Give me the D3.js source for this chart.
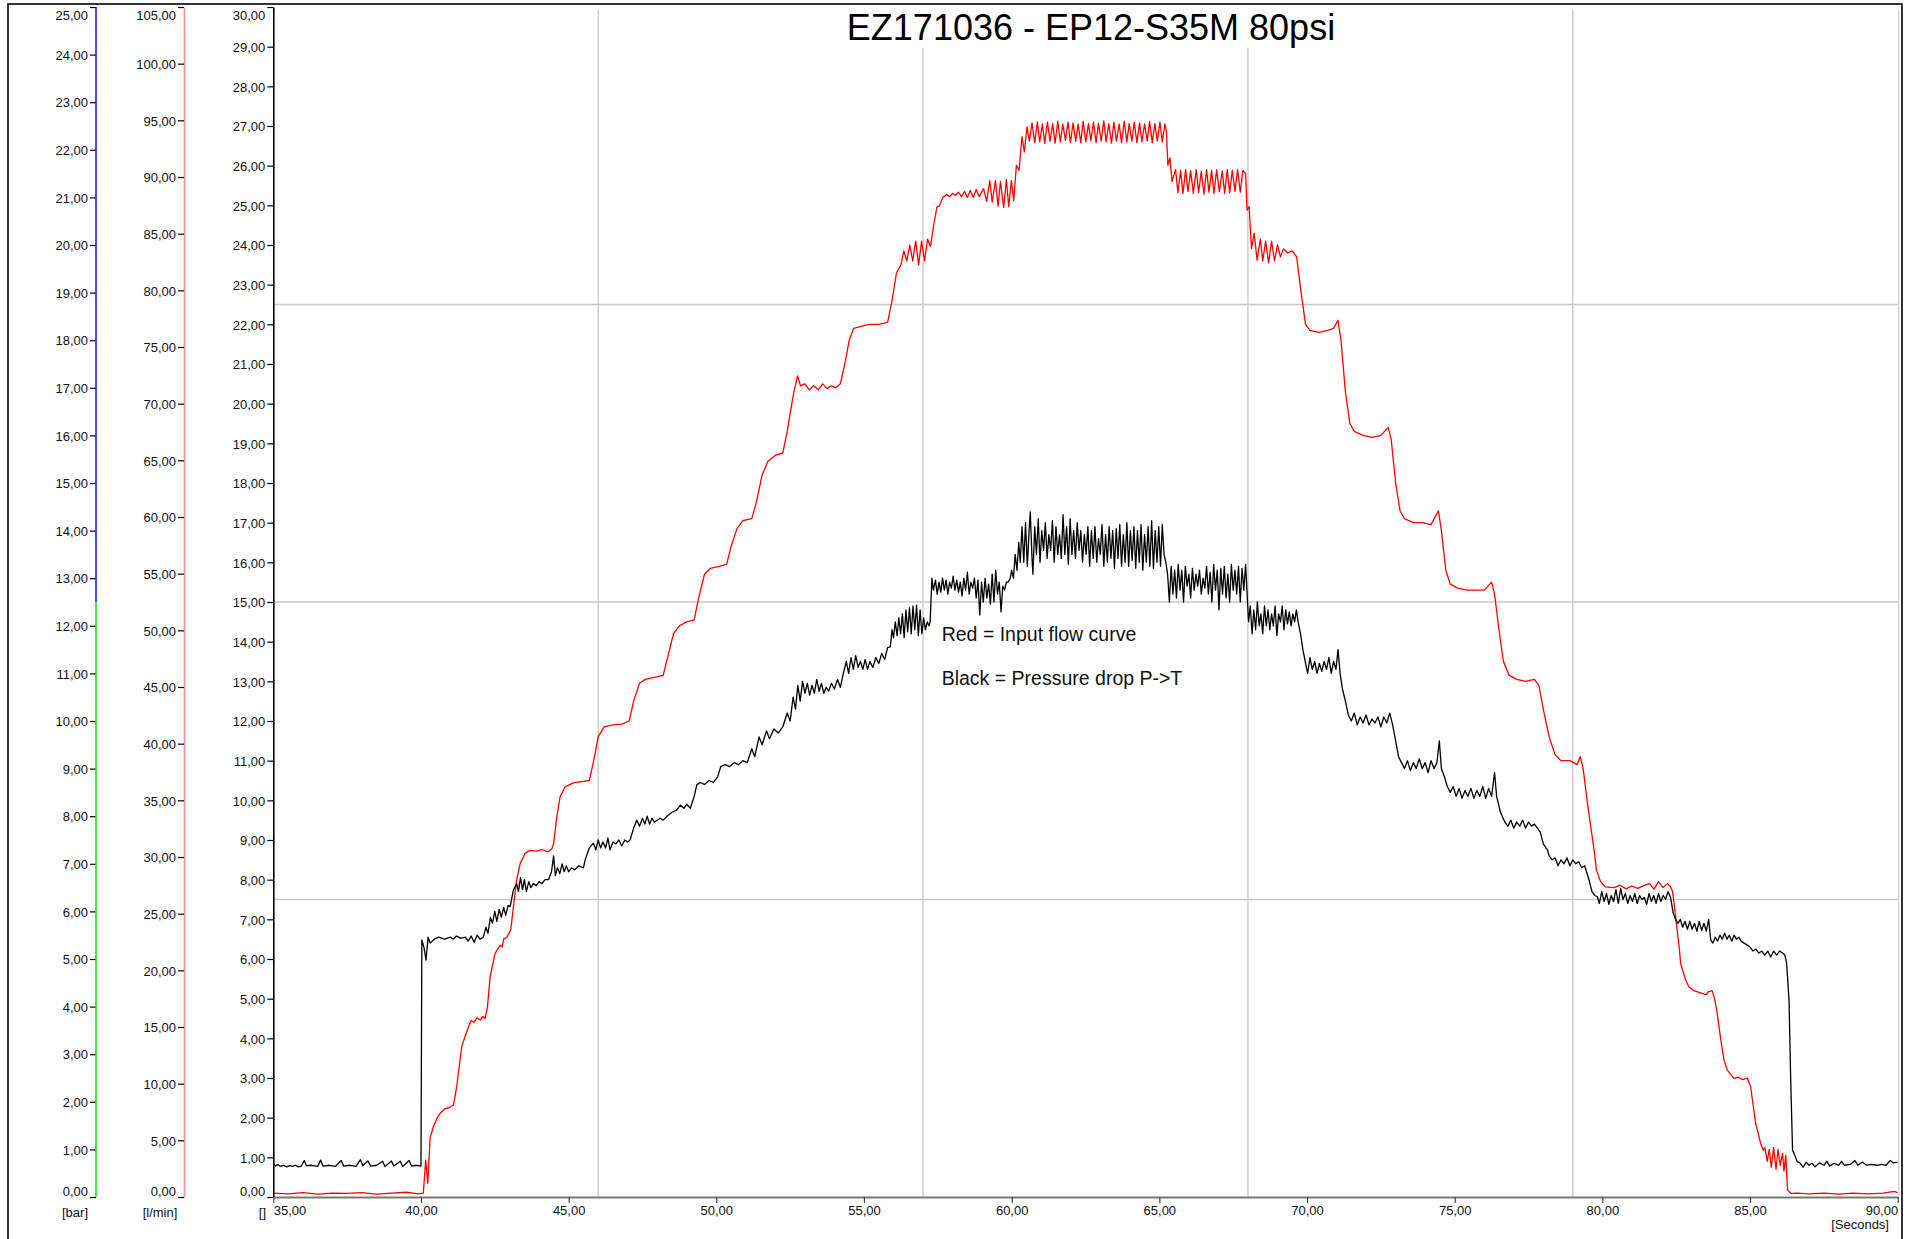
<!DOCTYPE html>
<html>
<head>
<meta charset="utf-8">
<script src="https://cdn.jsdelivr.net/npm/d3@7"></script>
<style>
  body { margin: 0; background: #fff; }
  svg { display: block; font-family: "Liberation Sans", Arial, sans-serif; }
  .tick text { font-size: 13px; fill: #111; }
</style>
</head>
<body>
<div id="chart"></div>
<script>
// ---- data ----
var chartTitle = "EZ171036 - EP12-S35M 80psi";
var noteLines = ["Red = Input flow curve", "Black = Pressure drop P->T"];

var xTicks = [35, 40, 45, 50, 55, 60, 65, 70, 75, 80, 85, 90];
var gridX = [46, 57, 68, 79];
var gridY = [7.5, 15, 22.5];
var unitLabels = ["[bar]", "[l/min]", "[]", "[Seconds]"];

// red = input flow  [seconds, value]
var redRise = [
  [35.0,0.1],[35.5,0.08],[36.0,0.11],[36.5,0.07],[37.0,0.1],[37.5,0.09],[38.0,0.11],[38.5,0.07],[39.0,0.1],[39.5,0.12],[39.9,0.08],[40.08,0.1],
  [40.16,0.93],[40.23,0.35],[40.31,1.49],[40.42,1.77],[40.55,2.0],[40.65,2.11],[40.8,2.22],[40.95,2.25],[41.1,2.32],[41.21,2.78],[41.38,3.79],[41.49,4.04],
  [41.61,4.29],[41.7,4.45],[41.8,4.4],[41.9,4.52],[42.0,4.46],[42.1,4.55],[42.17,4.5],[42.25,4.78],[42.34,5.55],[42.51,6.14],[42.68,6.35],[42.75,6.3],
  [42.8,6.5],[42.91,6.55],[43.04,6.73],[43.13,7.32],[43.24,7.99],[43.36,8.41],[43.53,8.67],[43.7,8.74],[43.9,8.72],[44.1,8.76],[44.3,8.7],[44.43,8.78],
  [44.49,8.9],[44.6,9.59],[44.71,10.09],[44.88,10.34],[45.16,10.44],[45.5,10.48],[45.7,10.5],
  [45.85,11.0],[46.0,11.6],[46.2,11.85],[46.5,11.9],[46.8,11.92],[47.05,12.0],[47.2,12.5],[47.4,12.95],[47.6,13.05],[47.9,13.1],[48.2,13.15],
  [48.35,13.6],[48.55,14.2],[48.75,14.4],[49.0,14.5],[49.25,14.55],[49.4,15.1],[49.6,15.7],[49.8,15.85],[50.1,15.9],[50.35,15.95],[50.5,16.4],
  [50.7,16.85],[50.9,17.05],[51.2,17.1],[51.35,17.5],[51.55,18.2],[51.75,18.55],[52.0,18.7],[52.25,18.75],[52.4,19.3],[52.6,20.2],[52.75,20.7],
  [52.85,20.45],[53.0,20.5],[53.15,20.35],[53.3,20.45],[53.45,20.35],[53.6,20.5],[53.75,20.38],[53.9,20.45],[54.05,20.4],[54.2,20.5],[54.35,21.0],
  [54.5,21.6],[54.65,21.9],[54.9,21.95],[55.2,22.0],[55.5,22.0],[55.8,22.05],[55.95,22.6],[56.1,23.3],[56.25,23.5],[56.35,23.85],[56.45,23.6],
  [56.55,24.0],[56.65,23.6],[56.75,24.1],[56.85,23.5],[56.95,24.1],[57.05,23.6],[57.15,24.15],[57.25,23.96]
];
var redTop = [
  [57.36,24.5],[57.47,24.96],[57.55,24.98],[57.67,25.2],[57.8,25.27],[57.9,25.22],[58.0,25.3],[58.1,25.25],[58.2,25.33],[58.3,25.22],[58.4,25.35],
  [58.5,25.2],[58.6,25.38],[58.7,25.2],[58.8,25.4],[58.9,25.22],[59.05,25.42],[59.15,25.1],[59.26,25.62],[59.34,25.08],[59.45,25.62],[59.54,24.98],
  [59.62,25.6],[59.73,24.95],[59.82,25.65],[59.9,24.97],[59.99,25.62],[60.07,25.12],[60.16,26.01],[60.25,25.88],[60.35,26.73],[60.43,26.35],
  [60.52,26.98],[60.6,26.62],[60.69,27.08],[60.78,26.58],[60.87,27.1],[60.95,26.6],[61.04,27.05],[61.12,26.56],[61.21,27.1],[61.3,26.62],
  [61.39,27.06],[61.47,26.57],[61.56,27.12],[61.65,26.6],[61.73,27.05],[61.82,26.64],[61.91,27.1],[61.99,26.58],[62.08,27.08],[62.17,26.62],
  [62.25,27.05],[62.34,26.58],[62.42,27.12],[62.51,26.6],[62.6,27.06],[62.68,26.63],[62.77,27.1],[62.86,26.58],[62.94,27.07],[63.03,26.62],
  [63.12,27.13],[63.2,26.6],[63.29,27.06],[63.38,26.57],[63.46,27.1],[63.55,26.62],[63.64,27.05],[63.72,26.58],[63.81,27.12],[63.9,26.6],
  [63.98,27.06],[64.07,26.62],[64.15,27.1],[64.24,26.58],[64.33,27.08],[64.41,26.6],[64.5,27.05],[64.59,26.62],[64.67,27.11],[64.76,26.58],
  [64.85,27.06],[64.93,26.62],[65.02,27.1],[65.1,26.6],[65.19,27.05],[65.24,26.85],[65.29,26.01],[65.36,26.2],[65.43,25.6],
  [65.55,25.9],[65.63,25.32],[65.72,25.88],[65.8,25.3],[65.89,25.9],[65.97,25.35],[66.06,25.87],[66.15,25.3],[66.25,25.9],[66.33,25.32],
  [66.42,25.86],[66.51,25.28],[66.6,25.9],[66.68,25.33],[66.77,25.88],[66.85,25.3],[66.94,25.9],[67.03,25.34],[67.13,25.87],[67.21,25.3],
  [67.3,25.9],[67.38,25.32],[67.47,25.88],[67.56,25.35],[67.65,25.9],[67.74,25.33],[67.83,25.88],[67.92,25.8],[67.97,24.88],[68.04,24.97],
  [68.12,23.91],[68.21,24.3],[68.31,23.62],[68.42,24.15],[68.5,23.6],[68.6,24.1],[68.7,23.55],[68.8,24.1],[68.9,23.6],[69.0,24.0],[69.1,23.7],
  [69.2,23.9],[69.35,23.8],[69.5,23.85],[69.65,23.7]
];
var redFall = [
  [69.8,22.8],[69.95,22.0],[70.1,21.85],[70.4,21.8],[70.7,21.85],[70.9,21.9],[71.05,22.1],[71.15,21.6],[71.3,20.3],[71.45,19.5],[71.6,19.3],
  [71.9,19.2],[72.2,19.15],[72.5,19.2],[72.75,19.4],[72.85,19.1],[73.0,18.0],[73.15,17.3],[73.3,17.1],[73.6,17.0],[73.9,17.0],[74.2,16.95],
  [74.45,17.3],[74.55,16.8],[74.7,15.8],[74.85,15.45],[75.1,15.35],[75.4,15.3],[75.7,15.3],[76.0,15.3],[76.25,15.5],[76.35,15.2],[76.5,14.3],
  [76.65,13.5],[76.85,13.15],[77.1,13.05],[77.4,13.0],[77.7,13.05],[77.85,12.9],[78.0,12.3],[78.2,11.6],[78.4,11.15],[78.6,11.0],[78.9,11.0],
  [79.15,10.9],[79.25,11.1],[79.35,10.8],[79.5,9.9],[79.72,8.75],[79.8,8.24],[79.94,7.95],[80.1,7.82],[80.4,7.8],[80.6,7.86],[80.8,7.77],
  [81.0,7.84],[81.2,7.78],[81.4,7.85],[81.6,7.9],[81.75,7.76],[81.9,7.95],[82.05,7.8],[82.2,7.9],[82.31,7.82],[82.38,7.7],[82.48,7.07],
  [82.6,6.31],[82.65,5.89],[82.82,5.47],[82.93,5.3],[83.1,5.2],[83.3,5.15],[83.5,5.1],[83.6,5.18],[83.72,5.2],[83.8,5.0],[83.89,4.63],
  [84.01,3.96],[84.12,3.45],[84.23,3.2],[84.46,2.99],[84.6,3.02],[84.75,2.96],[84.91,3.0],[85.02,2.78],[85.19,1.86],[85.36,1.35],[85.45,1.18],
  [85.5,1.25],[85.58,0.9],[85.65,1.2],[85.72,0.75],[85.8,1.25],[85.88,0.7],[85.95,1.2],[86.02,0.8],[86.1,1.1],[86.15,0.65],[86.21,1.05],
  [86.27,0.18],[86.38,0.09],[86.6,0.1],[87.0,0.08],[87.5,0.1],[88.0,0.07],[88.5,0.1],[89.0,0.08],[89.5,0.1],[89.9,0.14],[90.0,0.1]
];

// black = pressure drop P->T  [seconds, value]
var blackRise = [
  [35.0,0.85],[35.08,0.78],[35.15,0.82],[35.25,0.77],[35.35,0.8],[35.45,0.76],[35.55,0.79],[35.65,0.77],[35.75,0.8],[35.85,0.76],[35.95,0.78],
  [36.05,0.92],[36.12,0.79],[36.3,0.8],[36.5,0.77],[36.6,0.93],[36.68,0.78],[36.9,0.8],[37.1,0.77],[37.3,0.92],[37.38,0.78],[37.6,0.8],
  [37.8,0.77],[37.95,0.94],[38.03,0.79],[38.2,0.91],[38.3,0.78],[38.5,0.8],[38.7,0.9],[38.78,0.77],[39.0,0.91],[39.08,0.78],[39.3,0.9],
  [39.38,0.77],[39.6,0.92],[39.68,0.78],[39.85,0.8],[40.0,0.78],
  [40.03,6.48],[40.1,6.3],[40.17,5.97],[40.24,6.55],[40.31,6.4],[40.45,6.5],[40.6,6.55],[40.8,6.5],[41.0,6.55],[41.1,6.5],[41.2,6.58],
  [41.35,6.52],[41.5,6.55],[41.6,6.45],[41.7,6.58],[41.8,6.42],[41.9,6.6],[42.0,6.5],[42.11,6.55],[42.2,6.8],[42.27,6.65],[42.35,7.05],
  [42.42,6.9],[42.5,7.2],[42.57,6.95],[42.65,7.25],[42.72,7.05],[42.8,7.3],[42.87,7.1],[42.95,7.35],[43.02,7.32],[43.13,7.74],[43.24,7.9],
  [43.3,7.7],[43.37,8.05],[43.44,7.75],[43.5,8.0],[43.57,7.7],[43.65,7.95],[43.72,7.8],[43.8,7.9],[43.9,7.85],[44.0,7.95],[44.1,7.9],
  [44.2,8.0],[44.32,8.0],[44.42,8.2],[44.49,8.6],[44.55,8.1],[44.62,8.3],[44.7,8.15],[44.78,8.4],[44.85,8.2],[44.92,8.35],[45.0,8.2],
  [45.1,8.3],[45.2,8.25],[45.35,8.35],[45.5,8.3],[45.56,8.5],[45.7,8.8],[45.84,8.92],[45.92,8.75],[46.0,9.0],[46.08,8.8],[46.16,8.95],
  [46.25,8.8],[46.33,9.05],[46.4,8.75],[46.5,8.95],[46.6,8.9],[46.7,9.0],[46.8,8.85],[46.9,9.0],[47.0,8.95],[47.08,9.0],[47.2,9.3],
  [47.31,9.5],[47.4,9.35],[47.5,9.55],[47.58,9.4],[47.66,9.6],[47.74,9.4],[47.82,9.55],[47.9,9.45],[48.0,9.5],[48.1,9.55],[48.2,9.5],
  [48.33,9.6],[48.5,9.7],[48.65,9.75],[48.78,9.88],[48.9,9.8],[49.0,9.9],[49.12,9.8],[49.25,10.1],[49.34,10.39],[49.45,10.45],[49.6,10.4],
  [49.75,10.5],[49.9,10.45],[50.05,10.6],[50.15,10.85],[50.3,10.9],[50.45,10.85],[50.6,10.95],[50.75,10.9],[50.9,11.0],[51.05,10.95],
  [51.2,11.3],[51.3,11.1],[51.45,11.6],[51.55,11.4],[51.7,11.75],[51.8,11.55],[51.95,11.8],[52.1,11.7],[52.25,11.85],[52.4,12.2],[52.5,12.0],
  [52.6,12.6],[52.68,12.3],[52.76,12.9],[52.84,12.5],[52.92,13.0],[53.0,12.7],[53.08,12.95],[53.16,12.65],[53.24,12.9],[53.32,12.7],
  [53.4,13.05],[53.48,12.75],[53.56,12.95],[53.64,12.7],[53.72,12.85],[53.8,12.75],[53.9,12.95],[54.0,12.8],[54.1,13.05],[54.2,12.85],
  [54.3,13.2],[54.4,13.5],[54.48,13.2],[54.56,13.6],[54.64,13.3],[54.72,13.65],[54.8,13.35],[54.88,13.5],[54.96,13.3],[55.04,13.55],
  [55.12,13.3],[55.2,13.5],[55.3,13.35],[55.4,13.6],[55.5,13.45],[55.6,13.7],[55.7,13.55],[55.8,13.85],[55.89,13.87],
  [55.95,14.3],[56.0,14.1],[56.06,14.5],[56.12,14.15],[56.18,14.6],[56.24,14.2],[56.3,14.7],[56.36,14.1],[56.42,14.8],[56.48,14.25],
  [56.54,14.85],[56.6,14.2],[56.66,14.9],[56.72,14.3],[56.78,14.92],[56.84,14.15],[56.9,14.8],[56.96,14.2],[57.02,14.6],[57.08,14.3],
  [57.14,14.5],[57.2,14.4],[57.24,14.5]
];
var blackTop = [
  [57.3,15.6],[57.35,15.3],[57.42,15.55],[57.48,15.2],[57.54,15.5],[57.6,15.25],[57.66,15.6],[57.72,15.3],[57.78,15.55],[57.84,15.2],
  [57.9,15.5],[57.96,15.35],[58.02,15.65],[58.08,15.3],[58.14,15.55],[58.2,15.25],[58.26,15.5],[58.32,15.15],[58.38,15.6],[58.44,15.3],
  [58.5,15.75],[58.56,15.2],[58.62,15.5],[58.68,15.35],[58.74,15.6],[58.8,15.1],[58.86,15.55],[58.92,14.67],[58.98,15.5],[59.04,15.0],
  [59.1,15.6],[59.16,15.1],[59.22,15.45],[59.28,14.95],[59.34,15.7],[59.4,15.0],[59.46,15.8],[59.52,15.2],[59.58,15.5],[59.64,14.75],
  [59.7,15.4],[59.76,15.3],[59.82,15.5],[59.88,15.5],[59.95,15.6],[60.0,15.8],[60.06,15.6],[60.12,16.2],[60.18,15.8],[60.24,16.5],[60.29,16.0],
  [60.35,16.9],[60.41,16.0],[60.47,17.0],[60.53,15.9],[60.59,16.8],[60.63,17.27],[60.69,16.1],[60.72,15.7],[60.78,16.9],[60.84,16.2],
  [60.9,17.1],[60.96,16.0],[61.02,16.8],[61.08,16.3],[61.14,17.0],[61.2,16.1],[61.26,16.7],[61.32,16.3],[61.38,17.05],[61.44,16.0],
  [61.5,16.9],[61.56,16.2],[61.62,16.7],[61.68,16.1],[61.74,17.2],[61.8,16.2],[61.86,16.9],[61.92,15.95],[61.98,17.1],[62.04,16.2],
  [62.1,16.8],[62.16,16.1],[62.22,17.0],[62.28,16.3],[62.34,16.8],[62.4,16.0],[62.46,16.7],[62.52,16.2],[62.58,16.9],[62.64,15.9],
  [62.7,16.8],[62.76,16.1],[62.82,16.9],[62.88,16.0],[62.94,16.6],[63.0,16.2],[63.06,16.95],[63.12,15.9],[63.18,16.7],[63.24,16.0],
  [63.3,16.9],[63.36,16.1],[63.42,16.8],[63.48,15.85],[63.54,16.85],[63.6,16.1],[63.66,16.95],[63.72,15.9],[63.78,16.7],[63.84,16.0],
  [63.9,17.0],[63.96,15.9],[64.02,16.8],[64.08,16.05],[64.14,16.9],[64.2,15.85],[64.26,16.8],[64.32,16.0],[64.38,16.95],[64.44,15.8],
  [64.5,16.7],[64.56,16.0],[64.62,16.9],[64.68,15.9],[64.74,17.05],[64.8,15.85],[64.86,16.8],[64.92,16.0],[64.98,16.9],[65.04,15.9],
  [65.1,16.95],[65.16,16.2],[65.22,16.0],
  [65.28,15.7],[65.34,15.0],[65.4,15.9],[65.46,15.2],[65.52,15.8],[65.58,15.1],[65.64,15.95],[65.7,15.3],[65.76,15.8],[65.82,15.0],
  [65.88,15.9],[65.94,15.4],[66.0,15.7],[66.06,15.1],[66.12,15.85],[66.18,15.3],[66.24,15.7],[66.3,15.4],[66.36,15.8],[66.42,15.2],
  [66.48,15.6],[66.54,15.35],[66.6,15.9],[66.66,15.2],[66.72,15.75],[66.78,15.0],[66.84,15.95],[66.9,15.3],[66.96,15.8],[67.02,14.8],
  [67.08,15.85],[67.14,15.2],[67.2,15.9],[67.26,15.1],[67.32,15.7],[67.38,15.0],[67.44,15.95],[67.5,15.3],[67.56,15.8],[67.62,15.2],
  [67.68,15.9],[67.74,15.0],[67.8,15.85],[67.86,15.3],[67.92,15.95],[67.98,15.1],
  [68.02,14.5],[68.08,14.9],[68.14,14.2],[68.2,14.8],[68.26,14.3],[68.32,15.0],[68.38,14.4],[68.44,14.7],[68.5,14.2],[68.56,14.9],
  [68.62,14.4],[68.68,14.8],[68.74,14.3],[68.8,14.7],[68.86,14.4],[68.92,14.9],[68.98,14.15],[69.04,14.7],[69.1,14.5],[69.16,14.9],
  [69.22,14.3],[69.28,14.8],[69.34,14.45],[69.4,14.75],[69.46,14.4],[69.52,14.7],[69.58,14.5],[69.64,14.8],[69.7,14.5],[69.78,14.2],[69.86,13.8]
];
var blackFall = [
  [69.94,13.5],[70.02,13.2],[70.1,13.6],[70.18,13.3],[70.26,13.5],[70.34,13.2],[70.42,13.45],[70.5,13.25],[70.58,13.5],[70.66,13.3],
  [70.74,13.6],[70.82,13.2],[70.9,13.5],[70.98,13.3],[71.05,13.8],[71.12,13.2],[71.2,12.8],[71.3,12.5],[71.4,12.15],
  [71.5,12.0],[71.6,12.2],[71.7,11.9],[71.8,12.1],[71.9,11.95],[72.0,12.15],[72.1,11.9],[72.2,12.05],[72.3,11.95],[72.4,12.1],[72.5,11.85],
  [72.6,12.1],[72.7,11.95],[72.8,12.2],[72.9,11.9],[73.0,11.5],[73.1,11.1],
  [73.2,10.95],[73.3,10.8],[73.4,11.0],[73.5,10.75],[73.6,10.95],[73.7,10.8],[73.8,11.05],[73.9,10.8],[74.0,10.95],[74.1,10.7],[74.2,11.0],
  [74.3,10.8],[74.4,10.95],[74.48,11.5],[74.55,10.8],[74.65,10.6],[74.75,10.35],
  [74.85,10.2],[74.95,10.35],[75.05,10.1],[75.15,10.3],[75.25,10.05],[75.35,10.25],[75.45,10.1],[75.55,10.3],[75.65,10.05],[75.75,10.25],
  [75.85,10.1],[75.95,10.35],[76.05,10.05],[76.15,10.3],[76.25,10.1],[76.35,10.7],[76.42,10.1],[76.55,9.7],[76.7,9.45],
  [76.8,9.35],[76.9,9.5],[77.0,9.3],[77.1,9.45],[77.2,9.35],[77.3,9.5],[77.4,9.3],[77.5,9.45],[77.6,9.35],[77.7,9.4],[77.8,9.3],[77.9,9.2],
  [78.0,8.9],[78.14,8.75],[78.2,8.6],[78.3,8.5],[78.4,8.55],[78.5,8.35],[78.6,8.5],[78.7,8.4],[78.8,8.55],[78.9,8.35],[79.0,8.5],[79.1,8.4],
  [79.2,8.45],[79.3,8.3],[79.4,8.35],[79.55,7.99],[79.65,7.7],[79.75,7.6],
  [79.83,7.57],[79.9,7.4],[79.98,7.7],[80.06,7.45],[80.14,7.65],[80.22,7.38],[80.3,7.6],[80.38,7.45],[80.46,7.75],[80.54,7.4],[80.62,7.78],
  [80.7,7.5],[80.78,7.65],[80.86,7.4],[80.94,7.6],[81.02,7.45],[81.1,7.65],[81.18,7.4],[81.26,7.6],[81.34,7.5],[81.42,7.55],[81.5,7.38],
  [81.58,7.65],[81.66,7.45],[81.74,7.6],[81.82,7.4],[81.9,7.65],[81.98,7.45],[82.06,7.6],[82.14,7.5],[82.22,7.7],[82.31,7.55],[82.4,7.15],
  [82.48,7.0],[82.56,6.9],[82.64,7.0],[82.72,6.8],[82.8,6.95],[82.88,6.75],[82.96,6.95],[83.04,6.75],[83.12,6.9],[83.2,6.7],[83.28,6.95],
  [83.36,6.72],[83.44,6.9],[83.52,6.7],[83.6,7.0],[83.67,6.48],[83.74,6.4],[83.82,6.55],[83.9,6.45],[83.98,6.6],[84.06,6.5],[84.14,6.65],
  [84.22,6.5],[84.3,6.6],[84.38,6.45],[84.46,6.6],[84.54,6.5],[84.62,6.55],[84.7,6.45],[84.8,6.4],[84.91,6.35],[85.0,6.3],[85.1,6.2],
  [85.2,6.25],[85.3,6.15],[85.4,6.2],[85.5,6.1],[85.6,6.2],[85.7,6.05],[85.8,6.2],[85.9,6.1],[86.0,6.2],[86.1,6.15],[86.18,6.1],
  [86.24,5.89],[86.32,4.97],[86.38,2.86],[86.44,1.18],[86.49,1.1],[86.6,0.89],
  [86.7,0.85],[86.8,0.75],[86.9,0.88],[87.0,0.8],[87.1,0.85],[87.2,0.76],[87.35,0.86],[87.5,0.8],[87.6,0.9],[87.7,0.78],[87.85,0.85],
  [88.0,0.8],[88.1,0.9],[88.2,0.8],[88.4,0.82],[88.55,0.92],[88.65,0.8],[88.8,0.88],[88.95,0.8],[89.1,0.82],[89.3,0.8],[89.45,0.82],
  [89.6,0.8],[89.75,0.92],[89.85,0.86],[90.0,0.88]
];

var red = redRise.concat(redTop, redFall);
var black = blackRise.concat(blackTop, blackFall);

// ---- layout ----
var W = 1910, H = 1239;
var plotLeft = 273.3, plotRight = 1897.7, plotTop = 7, plotBottom = 1197;
var fmt = function(d){ return d3.format(".2f")(d).replace(".", ","); };

var svg = d3.select("#chart").append("svg")
    .attr("width", W)
    .attr("height", H);

// scales
var x = d3.scaleLinear().domain([35, 90]).range([plotLeft, plotRight]);
var y = d3.scaleLinear().domain([0, 30]).range([plotBottom, plotTop]);
var yBar = d3.scaleLinear().domain([0, 25]).range([plotBottom, plotTop]);
var yFlow = d3.scaleLinear().domain([0, 105]).range([plotBottom, plotTop]);

// outer frame
svg.append("rect")
    .attr("x", 8).attr("y", 4)
    .attr("width", 1894).attr("height", 1260)
    .attr("fill", "none")
    .attr("stroke", "#000")
    .attr("stroke-width", 1.6);

// grid
svg.append("g").selectAll("line")
    .data(gridX)
    .enter().append("line")
    .attr("x1", function(d){ return x(d); })
    .attr("x2", function(d){ return x(d); })
    .attr("y1", plotTop + 3).attr("y2", plotBottom)
    .attr("stroke", "#c8c8c8").attr("stroke-width", 1.3);
svg.append("g").selectAll("line")
    .data(gridY)
    .enter().append("line")
    .attr("x1", plotLeft).attr("x2", plotRight)
    .attr("y1", function(d){ return y(d); })
    .attr("y2", function(d){ return y(d); })
    .attr("stroke", "#c8c8c8").attr("stroke-width", 1.3);
svg.append("line")
    .attr("x1", plotRight + 1).attr("x2", plotRight + 1)
    .attr("y1", plotTop + 3).attr("y2", plotBottom)
    .attr("stroke", "#d0d0d0").attr("stroke-width", 1.3);

// title with white box over the grid
var titleX = 1091;
svg.append("rect")
    .attr("x", titleX - 255).attr("y", 6)
    .attr("width", 510).attr("height", 42)
    .attr("fill", "#fff");
svg.append("text")
    .attr("x", titleX).attr("y", 40)
    .attr("text-anchor", "middle")
    .attr("font-size", 36)
    .attr("fill", "#000")
    .text(chartTitle);

// curves
svg.append("clipPath").attr("id", "plotclip")
  .append("rect")
    .attr("x", plotLeft).attr("y", plotTop)
    .attr("width", plotRight - plotLeft).attr("height", plotBottom - plotTop);

var line = d3.line()
    .x(function(d){ return x(d[0]); })
    .y(function(d){ return y(d[1]); });

svg.append("path")
    .datum(red)
    .attr("clip-path", "url(#plotclip)")
    .attr("fill", "none")
    .attr("stroke", "#ff0000")
    .attr("stroke-width", 1.3)
    .attr("stroke-linejoin", "round")
    .attr("d", line);
svg.append("path")
    .datum(black)
    .attr("clip-path", "url(#plotclip)")
    .attr("fill", "none")
    .attr("stroke", "#000")
    .attr("stroke-width", 1.3)
    .attr("stroke-linejoin", "round")
    .attr("d", line);

// note text
svg.append("g").selectAll("text")
    .data(noteLines)
    .enter().append("text")
    .attr("x", 941.7)
    .attr("y", function(d, i){ return 641 + i * 44; })
    .attr("font-size", 19.5)
    .attr("fill", "#111")
    .text(function(d){ return d; });

// y axes
function yAxis(scale, xpos, ticks, color) {
  var max = scale.domain()[1];
  var g = svg.append("g")
      .attr("transform", "translate(" + xpos + ",0)")
      .call(d3.axisLeft(scale).tickValues(ticks).tickFormat(fmt).tickSize(6).tickSizeOuter(0).tickPadding(2));
  g.select(".domain").attr("stroke", color).attr("stroke-width", 1.6);
  g.selectAll(".tick line").attr("stroke", "#000").attr("stroke-width", 1.2);
  g.selectAll(".tick text")
    .attr("dy", function(d){ return d === max ? "0.97em" : d === 0 ? "-0.15em" : "0.36em"; });
  return g;
}

var barAxis = yAxis(yBar, 96, d3.range(0, 26), "none");
// the bar axis line is blue in the upper half and green in the lower half
barAxis.append("line")
    .attr("x1", 0).attr("x2", 0)
    .attr("y1", yBar(25)).attr("y2", yBar(12.5))
    .attr("stroke", "#1f1fff").attr("stroke-width", 1.6);
barAxis.append("line")
    .attr("x1", 0).attr("x2", 0)
    .attr("y1", yBar(12.5)).attr("y2", yBar(0))
    .attr("stroke", "#22e022").attr("stroke-width", 1.6);

yAxis(yFlow, 184, d3.range(0, 106, 5), "#ff9090");
yAxis(y, 273.3, d3.range(0, 31), "#000");

// x axis
var xg = svg.append("g")
    .attr("transform", "translate(0," + plotBottom + ")")
    .call(d3.axisBottom(x).tickValues(xTicks).tickFormat(fmt).tickSize(6).tickSizeOuter(0).tickPadding(3));
xg.select(".domain").attr("stroke", "#777").attr("stroke-width", 2.2);
xg.selectAll(".tick line").attr("stroke", "#444").attr("stroke-width", 1.2);
xg.selectAll(".tick text")
    .attr("text-anchor", function(d){ return d === 35 ? "start" : d === 90 ? "end" : "middle"; });

// unit labels
var units = svg.append("g").attr("font-size", 13).attr("fill", "#111");
units.append("text").attr("x", 75).attr("y", 1217).attr("text-anchor", "middle").text(unitLabels[0]);
units.append("text").attr("x", 160).attr("y", 1217).attr("text-anchor", "middle").text(unitLabels[1]);
units.append("text").attr("x", 266).attr("y", 1217).attr("text-anchor", "end").text(unitLabels[2]);
units.append("text").attr("x", 1889).attr("y", 1229).attr("text-anchor", "end").text(unitLabels[3]);
</script>
</body>
</html>
